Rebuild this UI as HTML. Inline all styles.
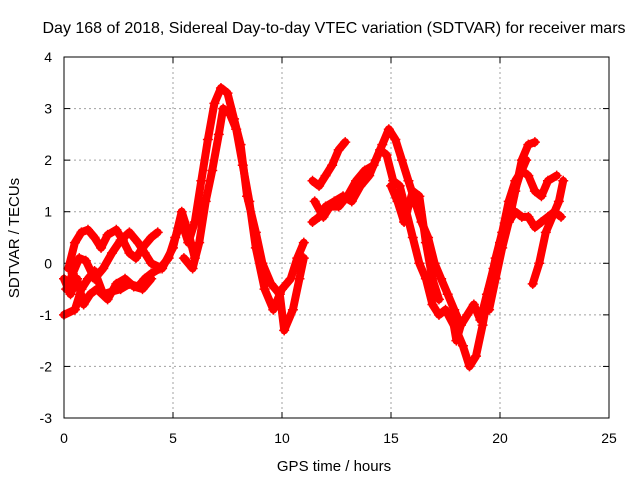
<!DOCTYPE html>
<html><head><meta charset="utf-8"><style>
body{margin:0;background:#fff}
svg{display:block;font-family:"Liberation Sans",sans-serif}
</style></head><body>
<svg id="chart" width="640" height="480" viewBox="0 0 640 480">
<rect x="0" y="0" width="640" height="480" fill="#fff"/>
<text x="334" y="33" font-size="16" text-anchor="middle">Day 168 of 2018, Sidereal Day-to-day VTEC variation (SDTVAR) for receiver mars</text>
<text x="334" y="471" font-size="15" text-anchor="middle">GPS time / hours</text>
<text transform="translate(19,238) rotate(-90)" font-size="15" text-anchor="middle">SDTVAR / TECUs</text>
<g id="grid"></g>
<g id="ticks"></g>
<g id="marks"></g>
<rect x="64" y="57" width="545" height="361" fill="none" stroke="#000" stroke-width="1"/>
</svg>
<script>
const xTicks=[0,5,10,15,20,25];
const yTicks=[-3,-2,-1,0,1,2,3,4];
const s1t=[0.2,0.5,0.8,1.1,1.4,1.7,2.0,2.4,2.7,3.0,3.3,3.6,4.0,4.3];
const s1v=[-0.1,0.4,0.6,0.65,0.5,0.3,0.55,0.65,0.45,0.2,0.1,0.3,0.5,0.6];
const s2t=[0.1,0.4,0.7,1.0,1.4,1.8,2.2,2.6,3.0,3.4,3.7,4.0,4.5,5.0,5.4,5.7,6.0];
const s2v=[-0.5,-0.2,0.1,0.05,-0.3,-0.1,0.2,0.45,0.6,0.4,0.2,0.0,-0.1,0.3,1.0,0.6,0.1];
const s3t=[0,0.5,0.8,1.1,1.4,1.8,2.2,2.6,3.0,3.4,3.7,4.0,4.4,4.8,5.1,5.4,5.7,6.0,6.3,6.6,6.9,7.2,7.5,7.8,8.1,8.4,8.8,9.1,9.5,9.9,10.1,10.5,10.8,11.0];
const s3v=[-1.0,-0.9,-0.5,-0.3,-0.15,-0.6,-0.55,-0.5,-0.4,-0.45,-0.3,-0.2,-0.1,0.1,0.5,0.8,0.4,0.8,1.6,2.4,3.1,3.4,3.3,2.8,2.3,1.3,0.6,0.0,-0.4,-0.6,-1.3,-0.9,-0.3,0.1];
const s4t=[0,0.3,0.6,0.9,1.2,1.5,2.0,2.4,2.8,3.2,3.6,4.0];
const s4v=[-0.3,-0.6,-0.3,-0.8,-0.6,-0.5,-0.7,-0.4,-0.3,-0.45,-0.5,-0.3];
const s5t=[5.5,5.9,6.2,6.5,6.8,7.1,7.3,7.6,7.9,8.2,8.5,8.8,9.2,9.6,10.0,10.4,10.7,11.0];
const s5v=[0.1,-0.1,0.4,1.2,1.8,2.5,3.0,2.9,2.6,1.9,1.2,0.3,-0.5,-0.9,-0.5,-0.3,0.1,0.4];
const s6t=[11.4,11.7,12.0,12.3,12.6,12.9];
const s6v=[1.6,1.5,1.7,1.9,2.2,2.35];
const s7t=[11.4,11.7,12.0,12.4,12.8,13.2,13.6,14.0,14.3,14.6,14.9,15.2,15.5,15.8,16.1,16.4,16.7,17.0,17.3,17.6,17.9,18.2,18.5,18.8,19.1,19.4,19.7,20.0,20.3,20.6,20.9,21.2];
const s7v=[0.8,0.9,1.1,1.2,1.3,1.2,1.5,1.7,2.0,2.3,2.6,2.4,2.0,1.6,1.2,0.8,0.5,0.0,-0.3,-0.6,-0.9,-1.2,-1.0,-0.8,-1.1,-0.6,-0.1,0.4,0.9,1.3,1.7,2.0];
const s8t=[11.5,11.9,12.2,12.6,13.0,13.4,13.8,14.2,14.5,14.8,15.1,15.4,15.7,16.0,16.3,16.6,16.9,17.2,17.5,18.0,18.3,18.6,18.9,19.2,19.5,19.8,20.1,20.4,20.7,21.0,21.3,21.6,21.9,22.2,22.6];
const s8v=[1.2,0.9,1.1,1.1,1.3,1.6,1.8,1.9,2.2,2.1,1.6,1.5,1.0,0.5,0.0,-0.3,-0.8,-1.0,-0.9,-1.3,-1.6,-2.0,-1.8,-1.2,-0.5,0.1,0.6,1.2,1.6,1.8,1.7,1.4,1.3,1.6,1.7];
const s9t=[15.0,15.3,15.6,16.0,16.3,16.6,16.9,17.2];
const s9v=[1.5,1.2,0.8,1.4,1.3,0.4,-0.3,-0.7];
const s10t=[17.8,18.0,18.2];
const s10v=[-1.0,-1.5,-1.2];
const s11t=[20.1,20.4,20.7,21.0,21.3,21.6,21.9,22.2,22.5,22.8];
const s11v=[0.5,0.8,1.0,0.9,0.9,0.7,0.8,0.9,1.0,0.9];
const s12t=[21.5,21.8,22.1,22.4,22.7,22.9];
const s12v=[-0.4,0.0,0.6,0.9,1.2,1.6];
const s13t=[19.5,19.8,20.1,20.4,20.7,21.0,21.3,21.6];
const s13v=[-0.9,-0.3,0.3,0.8,1.4,2.0,2.3,2.35];
const series=[[s1t,s1v],[s2t,s2v],[s3t,s3v],[s4t,s4v],[s5t,s5v],[s6t,s6v],[s7t,s7v],[s8t,s8v],[s9t,s9v],[s10t,s10v],[s11t,s11v],[s12t,s12v],[s13t,s13v]];

const X0=64,X1=609,Y0=418,Y1=57;
function px(t){return X0+(t-0)/25*(X1-X0);}
function py(v){return Y0-(v+3)/7*(Y0-Y1);}
const NS="http://www.w3.org/2000/svg";
const grid=document.getElementById('grid'),ticks=document.getElementById('ticks'),marks=document.getElementById('marks');
function mk(tag,attrs,parent){const e=document.createElementNS(NS,tag);for(const k in attrs)e.setAttribute(k,attrs[k]);parent.appendChild(e);return e;}
xTicks.forEach(t=>{
  const x=px(t);
  if(t>0&&t<25){const g=mk('line',{x1:x,x2:x,y1:Y1,y2:Y0,stroke:'#a0a0a0','stroke-dasharray':'2,3'},grid);
  
  }
  mk('line',{x1:x,x2:x,y1:Y0,y2:Y0-6,stroke:'#000'},ticks);
  mk('line',{x1:x,x2:x,y1:Y1,y2:Y1+6,stroke:'#000'},ticks);
  const l=mk('text',{x:x,y:443,'font-size':14,'text-anchor':'middle'},ticks);l.textContent=t;
  
  
});
yTicks.forEach(v=>{
  const y=py(v);
  if(v>-3&&v<4){const g=mk('line',{x1:X0,x2:X1,y1:y,y2:y,stroke:'#a0a0a0','stroke-dasharray':'2,3'},grid);
  
  }
  mk('line',{x1:X0,x2:X0+6,y1:y,y2:y,stroke:'#000'},ticks);
  mk('line',{x1:X1,x2:X1-6,y1:y,y2:y,stroke:'#000'},ticks);
  const l=mk('text',{x:52,y:y+5,'font-size':14,'text-anchor':'end'},ticks);l.textContent=v;
  
  
});
series.forEach((s,i)=>{
  const [ts,vs]=s;
  const pts=ts.map((t,j)=>px(t).toFixed(1)+','+py(vs[j]).toFixed(1)).join(' ');
  const pl=mk('polyline',{points:pts,fill:'none',stroke:'#f00','stroke-width':8,'stroke-linejoin':'round','stroke-linecap':'round'},marks);
  
  
  ts.forEach((t,j)=>{
    const x=px(t),y=py(vs[j]);
    const p=mk('path',{d:`M${x-5},${y}H${x+5}M${x},${y-5}V${y+5}`,stroke:'#f00','stroke-width':1.5},marks);
    
    
  });
});
</script>
</body></html>
